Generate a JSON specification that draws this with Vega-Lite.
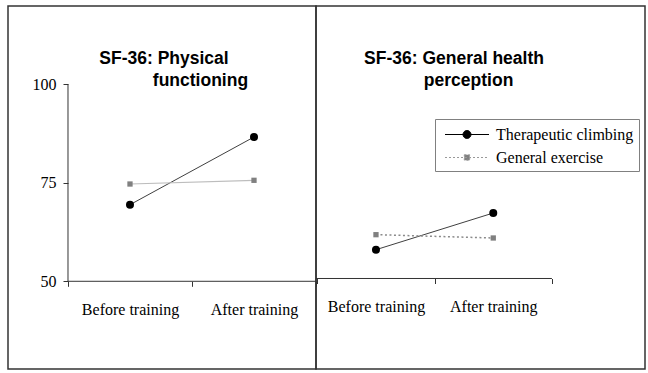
{
  "$schema": "https://vega.github.io/schema/vega-lite/v6.json",
  "padding": {"left": 7, "top": 5, "right": 4, "bottom": 5},
  "background": "white",
  "spacing": 0,
  "bounds": "flush",
  "datasets": {
    "d": [
      {"panel": "PF", "time": "Before training", "group": "Therapeutic climbing", "value": 69.44},
      {"panel": "PF", "time": "After training", "group": "Therapeutic climbing", "value": 86.62},
      {"panel": "PF", "time": "Before training", "group": "General exercise", "value": 74.69},
      {"panel": "PF", "time": "After training", "group": "General exercise", "value": 75.63},
      {"panel": "GH", "time": "Before training", "group": "Therapeutic climbing", "value": 57.31},
      {"panel": "GH", "time": "After training", "group": "Therapeutic climbing", "value": 66.62},
      {"panel": "GH", "time": "Before training", "group": "General exercise", "value": 61.12},
      {"panel": "GH", "time": "After training", "group": "General exercise", "value": 60.28}
    ]
  },
  "config": {
    "view": {"stroke": "#333333", "strokeWidth": 1.5},
    "axis": {"labelFont": "Liberation Serif", "labelFontSize": 16, "labelColor": "#000000", "tickColor": "#333333", "tickWidth": 1},
    "title": {"font": "Liberation Sans", "fontSize": 17.5, "fontWeight": "bold", "color": "#000000", "lineHeight": 22, "anchor": "middle", "offset": -83},
    "legend": {"orient": "none", "legendX": 427, "legendY": 113, "direction": "vertical", "strokeColor": "#808080", "fillColor": "white", "padding": 5,
      "labelFont": "Liberation Serif", "labelFontSize": 16, "labelColor": "#000000", "symbolSize": 400, "symbolOffset": 16.5, "labelOffset": 18.5, "rowPadding": 4, "symbolStrokeWidth": 1}
  },
  "resolve": {"scale": {"x": "independent", "y": "independent"}},
  "hconcat": [
    {
      "width": 308,
      "height": 363,
      "title": {"text": ["SF-36: Physical", "\u200b\u00a0\u00a0\u00a0\u00a0\u00a0\u00a0\u00a0\u00a0\u00a0\u00a0\u00a0\u00a0\u00a0\u00a0\u00a0functioning"], "dx": 2},
      "encoding": {
        "x": {"field": "time", "type": "nominal",
          "scale": {"type": "band", "domain": ["Before training", "After training"], "paddingInner": 0, "paddingOuter": 0.2419, "align": 1},
          "axis": {"title": null, "orient": "bottom", "offset": -87.7, "domain": false, "grid": false, "tickBand": "extent", "tickSize": 5, "labelPadding": 28, "labelBaseline": "alphabetic", "labelAngle": 0}},
        "y": {"field": "value", "type": "quantitative",
          "scale": {"domain": [27.74, 119.87], "nice": false, "zero": false},
          "axis": {"title": null, "values": [50, 75, 100], "offset": -60, "domain": false, "grid": false, "tickSize": 5, "labelPadding": 7, "labelBaseline": "middle"}}
      },
      "layer": [
        {"data": {"name": "d"}, "transform": [{"filter": "datum.panel === 'PF' && datum.time === 'Before training' && datum.group === 'Therapeutic climbing'"}],
          "mark": {"type": "rule", "color": "#333333", "strokeWidth": 1},
          "encoding": {"x": {"field": "time", "type": "nominal", "bandPosition": 0}, "y": {"datum": 50, "type": "quantitative"}, "y2": {"datum": 100}}},
        {"data": {"name": "d"}, "transform": [{"filter": "datum.panel === 'PF' && datum.time === 'Before training' && datum.group === 'Therapeutic climbing'"}],
          "mark": {"type": "rule", "color": "#333333", "strokeWidth": 1},
          "encoding": {"x": {"field": "time", "type": "nominal", "bandPosition": 0}, "x2": {"value": "width"}, "y": {"datum": 50, "type": "quantitative"}}},
        {"data": {"name": "d"}, "transform": [{"filter": "datum.panel === 'PF' && datum.group === 'Therapeutic climbing'"}],
          "mark": {"type": "line", "color": "#404040", "strokeWidth": 1}, "encoding": {}},
        {"data": {"name": "d"}, "transform": [{"filter": "datum.panel === 'PF' && datum.group === 'General exercise'"}],
          "mark": {"type": "line", "color": "#bdbdbd", "strokeWidth": 1.2}, "encoding": {}},
        {"data": {"name": "d"}, "transform": [{"filter": "datum.panel === 'PF' && datum.group === 'Therapeutic climbing'"}],
          "mark": {"type": "point", "shape": "circle", "filled": true, "opacity": 1, "color": "#000000", "size": 64}, "encoding": {}},
        {"data": {"name": "d"}, "transform": [{"filter": "datum.panel === 'PF' && datum.group === 'General exercise'"}],
          "mark": {"type": "point", "shape": "square", "filled": true, "opacity": 1, "color": "#808080", "size": 28}, "encoding": {}}
      ]
    },
    {
      "width": 329,
      "height": 363,
      "title": {"text": ["SF-36: General health", "\u200b\u00a0\u00a0\u00a0\u00a0\u00a0\u00a0perception"], "dx": -26.5},
      "encoding": {
        "x": {"field": "time", "type": "nominal",
          "scale": {"type": "band", "domain": ["Before training", "After training"], "paddingInner": 0, "paddingOuter": 0.4024, "align": 0.014},
          "axis": {"title": null, "orient": "bottom", "offset": -90.5, "domain": false, "grid": false, "tickBand": "extent", "tickSize": 5, "labelPadding": 27.5, "labelBaseline": "alphabetic", "labelAngle": 0}},
        "y": {"field": "value", "type": "quantitative",
          "scale": {"domain": [27.03, 119.16], "nice": false, "zero": false},
          "axis": null}
      },
      "layer": [
        {"data": {"name": "d"}, "transform": [{"filter": "datum.panel === 'GH' && datum.time === 'After training' && datum.group === 'Therapeutic climbing'"}],
          "mark": {"type": "rule", "color": "#333333", "strokeWidth": 1},
          "encoding": {"x": {"field": "time", "type": "nominal", "bandPosition": 1}, "x2": {"value": 0}, "y": {"datum": 50, "type": "quantitative", "axis": null}}},
        {"data": {"name": "d"}, "transform": [{"filter": "datum.panel === 'GH' && datum.group === 'Therapeutic climbing'"}],
          "mark": {"type": "line", "color": "#404040", "strokeWidth": 1}, "encoding": {}},
        {"data": {"name": "d"}, "transform": [{"filter": "datum.panel === 'GH' && datum.group === 'General exercise'"}],
          "mark": {"type": "line", "color": "#8a8a8a", "strokeWidth": 1.5, "strokeDash": [2, 2.5]}, "encoding": {}},
        {"data": {"name": "d"}, "transform": [{"filter": "datum.panel === 'GH' && datum.group === 'Therapeutic climbing'"}],
          "mark": {"type": "point", "shape": "circle", "filled": true, "opacity": 1, "color": "#000000", "size": 64}, "encoding": {}},
        {"data": {"name": "d"}, "transform": [{"filter": "datum.panel === 'GH' && datum.group === 'General exercise'"}],
          "mark": {"type": "point", "shape": "square", "filled": true, "opacity": 1, "color": "#808080", "size": 28}, "encoding": {}},
        {"data": {"name": "d"}, "transform": [{"filter": "false"}],
          "mark": {"type": "point", "filled": true, "opacity": 1, "size": 400, "strokeWidth": 1},
          "encoding": {
            "shape": {"field": "group", "type": "nominal", "scale": {"domain": ["Therapeutic climbing", "General exercise"], "range": ["M-2.2,0H2.2M-0.4,0A0.4,0.4,0,1,1,0.4,0A0.4,0.4,0,1,1,-0.4,0Z", "M-2.2,0H2.2M-0.27,-0.27H0.27V0.27H-0.27Z"]}, "legend": {"title": null}},
            "fill": {"field": "group", "type": "nominal", "scale": {"domain": ["Therapeutic climbing", "General exercise"], "range": ["#000000", "#808080"]}, "legend": {"title": null}},
            "stroke": {"field": "group", "type": "nominal", "scale": {"domain": ["Therapeutic climbing", "General exercise"], "range": ["#000000", "#999999"]}, "legend": {"title": null}},
            "strokeDash": {"field": "group", "type": "nominal", "scale": {"domain": ["Therapeutic climbing", "General exercise"], "range": [[1, 0], [2, 2]]}, "legend": {"title": null}}
          }}
      ]
    }
  ]
}
